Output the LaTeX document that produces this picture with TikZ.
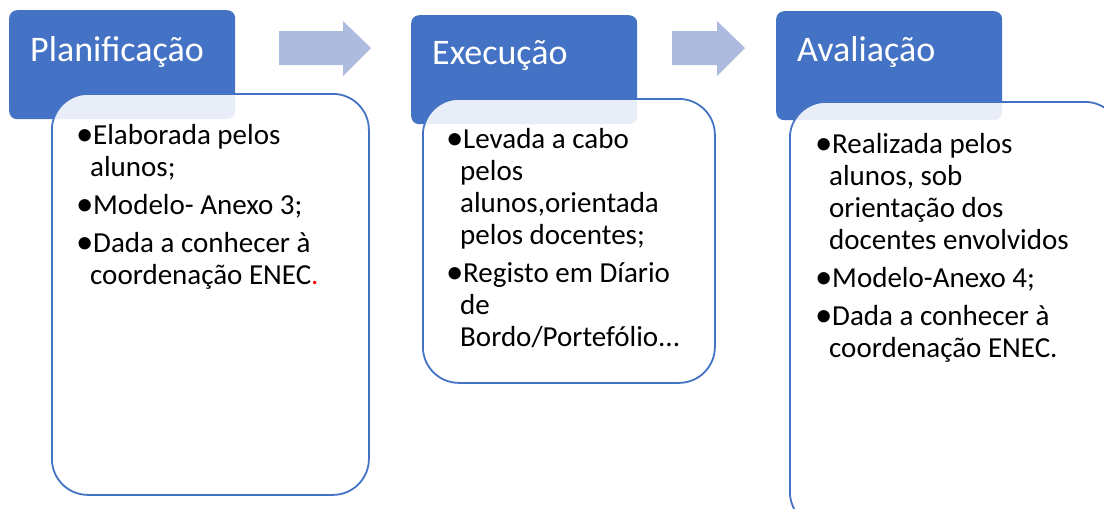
\documentclass[tikz,border=0pt]{standalone}
\usepackage{fontspec}
\usepackage{graphicx}
\setmainfont{Carlito}
\usetikzlibrary{positioning}
\definecolor{hdrblue}{HTML}{4472C4}
\definecolor{arrblue}{HTML}{ADBBDF}
\newcommand{\bulletmark}{\strut\makebox[14pt][l]{\hspace*{-3pt}\raisebox{-1.5pt}{\scalebox{1.2}{•}}}}
\newcommand{\hangtab}{\hspace*{11pt}}
\tikzset{
  header/.style = {fill = hdrblue, rounded corners = 8pt, minimum width = 226pt,
                   minimum height = 109pt, anchor = north west, inner sep = 0pt},
  title/.style = {anchor = base west, text = white, inner sep = 0pt,
                  font = \fontsize{36}{40}\selectfont},
  bodybox/.style = {draw = hdrblue, line width = 1.8pt, fill = white, fill opacity = .88,
                    rounded corners = 36pt, anchor = north west, inner sep = 0pt},
  bodytext/.style = {anchor = north west, align = left, inner sep = 0pt,
                     font = \fontsize{29}{32}\selectfont}
}
\begin{document}
\begin{tikzpicture}[x = 1pt, y = -1pt]
  \useasboundingbox (0,0) rectangle (1104,509);
  \clip (0,0) rectangle (1104,509);
  % block arrows
  \fill[arrblue] (279,31) -- (343,31) -- (343,21) -- (371,48) -- (343,76) -- (343,65) -- (279,65) -- cycle;
  \fill[arrblue] (672,31) -- (717,31) -- (717,21) -- (745,48) -- (717,76) -- (717,65) -- (672,65) -- cycle;
  % headers
  \node[header] (hPlan) at (9,10) {};
  \node[header] (hExec) at (411,15) {};
  \node[header] (hAval) at (776,11) {};
  % boxes
  \node[bodybox, minimum width = 317pt, minimum height = 401pt] (bPlan) at (51,93) {};
  \node[bodybox, minimum width = 292pt, minimum height = 284pt] (bExec) at (422,98) {};
  \node[bodybox, minimum width = 331pt, minimum height = 426pt] (bAval) at (789,101) {};
  % titles
  \node[title] at ([shift = {(21,51)}]hPlan.north west) {Planificação};
  \node[title] at ([shift = {(21,49)}]hExec.north west) {Execução};
  \node[title] at ([shift = {(21,50)}]hAval.north west) {Avaliação};
  % texts (first baseline = top + 22.4)
  \node[bodytext] (tPlan) at ([shift = {(28,28.6)}]bPlan.north west)
    {\bulletmark Elaborada pelos\\ \hangtab alunos;\\[6pt]
     \bulletmark Modelo- Anexo 3;\\[6pt]
     \bulletmark Dada a conhecer à\\ \hangtab coordenação ENEC\textcolor{red}{.}};
  \node[bodytext] (tExec) at ([shift = {(27,27.6)}]bExec.north west)
    {\bulletmark Levada a cabo\\ \hangtab pelos\\ \hangtab alunos,orientada\\ \hangtab pelos docentes;\\[6pt]
     \bulletmark Registo em Díario\\ \hangtab de\\ \hangtab Bordo/Portefólio.{}.{}.};
  \node[bodytext] (tAval) at ([shift = {(29,29.6)}]bAval.north west)
    {\bulletmark Realizada pelos\\ \hangtab alunos, sob\\ \hangtab orientação dos\\ \hangtab docentes envolvidos\\[6pt]
     \bulletmark Modelo-Anexo 4;\\[6pt]
     \bulletmark Dada a conhecer à\\ \hangtab coordenação ENEC.};
\end{tikzpicture}
\end{document}
